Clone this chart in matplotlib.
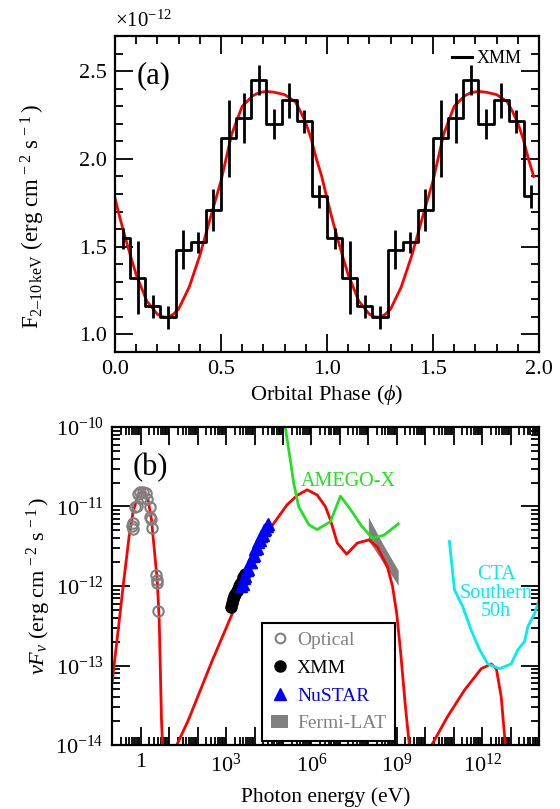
import numpy as np
import matplotlib
matplotlib.use('Agg')
import matplotlib.pyplot as plt
from matplotlib.ticker import MultipleLocator, LogLocator, FuncFormatter, NullFormatter
from matplotlib.lines import Line2D
from matplotlib.patches import Patch

plt.rcParams['font.family'] = ['Liberation Serif', 'DejaVu Serif']
plt.rcParams['mathtext.fontset'] = 'custom'
plt.rcParams['mathtext.rm'] = 'Liberation Serif'
plt.rcParams['mathtext.it'] = 'Liberation Serif:italic'
plt.rcParams['mathtext.bf'] = 'Liberation Serif:bold'

########################################
# (a) XMM light curve, 14 bins per orbit (units of 1e-12)

bin_phase = [0.036, 0.107, 0.179, 0.250, 0.321, 0.393, 0.464,
             0.536, 0.607, 0.679, 0.750, 0.821, 0.893, 0.964]
xmm_flux = [1.547, 1.324, 1.161, 1.098, 1.483, 1.525, 1.710,
            2.118, 2.231, 2.449, 2.199, 2.333, 2.215, 1.788]
xmm_err = [0.060, 0.210, 0.066, 0.066, 0.110, 0.060, 0.120,
           0.220, 0.142, 0.085, 0.085, 0.100, 0.065, 0.066]

# model curve
model_phase = [0.0, 0.025, 0.05, 0.075, 0.10, 0.15, 0.20, 0.225, 0.25, 0.275, 0.30,
               0.35, 0.40, 0.45, 0.50, 0.55, 0.60, 0.65, 0.675, 0.70, 0.725, 0.75,
               0.80, 0.85, 0.875, 0.90, 0.925, 0.95, 0.975]
model_flux = [1.775, 1.655, 1.545, 1.44, 1.34, 1.19, 1.115, 1.10, 1.098, 1.115, 1.145,
              1.27, 1.45, 1.665, 1.875, 2.14, 2.30, 2.36, 2.375, 2.382, 2.383, 2.380,
              2.366, 2.326, 2.27, 2.205, 2.115, 2.00, 1.90]

########################################
# (b) SED

opt_E = [0.51, 0.53, 0.55, 0.61, 0.74, 0.80, 0.98, 1.06, 1.21, 1.50, 1.67,
         2.08, 2.20, 2.38, 2.50, 3.57, 3.67, 3.67, 4.20]
opt_F = [5.7e-12, 6.2e-12, 5.2e-12, 9.8e-12, 1.02e-11, 1.44e-11, 1.54e-11, 1.27e-11,
         1.54e-11, 1.46e-11, 1.24e-11, 9.8e-12, 7.4e-12, 6.9e-12, 5.3e-12,
         1.38e-12, 1.18e-12, 1.08e-12, 4.9e-13]

xmm_E = [1480, 1620, 1780, 1950, 2140, 2340, 2570, 2820, 3160, 3550, 3980, 4570]
xmm_F = [5.5e-13, 6.2e-13, 6.8e-13, 7.4e-13, 7.9e-13, 8.7e-13, 9.1e-13, 1.0e-12,
         1.07e-12, 1.17e-12, 1.29e-12, 1.41e-12]

nus_E = [3300, 3800, 4270, 4790, 5370, 6030, 6760, 7590, 8510, 9550, 10700,
         12000, 13500, 15100, 17000, 19100, 21400, 24000, 26900, 30200]
nus_F = [1.0e-12, 1.05e-12, 1.26e-12, 1.32e-12, 1.58e-12, 1.62e-12, 2.0e-12, 2.0e-12,
         2.4e-12, 2.45e-12, 2.95e-12, 3.0e-12, 3.55e-12, 3.8e-12, 4.27e-12, 4.37e-12,
         5.0e-12, 5.25e-12, 5.75e-12, 6.0e-12]

fermi_E = [1.0e8, 3.2e8, 1.12e9]
fermi_hi = [7.4e-12, 3.4e-12, 1.58e-12]
fermi_lo = [3.8e-12, 2.0e-12, 1.02e-12]

# model curves (log10 E, log10 F)
opt_mod_lE = [-1.0, -0.85, -0.74, -0.625, -0.5, -0.41, -0.27, -0.1, 0.06, 0.18,
              0.26, 0.38, 0.49, 0.58, 0.65, 0.73, 0.80]
opt_mod_lF = [-13.20, -12.73, -12.39, -12.02, -11.65, -11.38, -11.07, -10.86, -10.81,
              -10.85, -10.92, -11.17, -11.59, -11.93, -12.43, -13.69, -14.3]

ic_mod_lE = [1.2, 1.67, 2.5, 3.12, 3.5, 4.0, 4.5, 4.8, 5.14, 5.5, 5.85, 6.2, 6.49,
             6.67, 6.91, 7.24, 7.61, 8.02, 8.32, 8.67, 8.85, 9.0, 9.14, 9.3, 9.47]
ic_mod_lF = [-14.05, -13.69, -12.95, -12.43, -12.10, -11.66, -11.30, -11.15, -10.98,
             -10.86, -10.79, -10.855, -11.0, -11.17, -11.46, -11.60, -11.46, -11.42,
             -11.51, -11.76, -12.0, -12.35, -12.85, -13.5, -14.1]

tev_mod_lE = [10.15, 10.79, 11.38, 11.97, 12.32, 12.5, 12.67, 12.83]
tev_mod_lF = [-14.05, -13.64, -13.31, -13.04, -12.98, -13.04, -13.39, -14.05]

amego_lE = [5.0, 5.08, 5.26, 5.38, 5.55, 5.91, 6.2, 6.67, 7.02, 7.38, 7.73, 8.14,
            8.55, 9.05]
amego_lF = [-9.8, -10.0, -10.42, -10.71, -11.0, -11.23, -11.29, -11.19, -10.87,
            -11.04, -11.23, -11.40, -11.36, -11.22]

cta_lE = [10.85, 11.03, 11.32, 11.61, 11.91, 12.2, 12.61, 13.02, 13.26, 13.49,
          13.61, 13.85, 14.05]
cta_lF = [-11.44, -12.05, -12.26, -12.55, -12.80, -12.98, -13.04, -12.98, -12.80,
          -12.70, -12.51, -12.34, -12.13]

########################################

fig = plt.figure(figsize=(5.6, 8.09), dpi=100)
ax1 = fig.add_axes([0.2054, 0.5649, 0.7571, 0.3906])
ax2 = fig.add_axes([0.2005, 0.0791, 0.7620, 0.3931])

for ax in (ax1, ax2):
    ax.tick_params(which='both', direction='in', top=True, right=True, labelsize=16,
                   width=1.3)
    ax.tick_params(which='major', length=13, pad=6)
    ax.tick_params(which='minor', length=6)
    for s in ax.spines.values():
        s.set_linewidth(1.6)

# ---- panel (a)
ph = np.array(model_phase)
mf = np.array(model_flux)
ax1.plot(np.concatenate([ph, ph + 1]), np.concatenate([mf, mf]), color='red', lw=2,
         zorder=2)

bc = np.array(bin_phase)
cen = np.concatenate([bc, bc + 1])
flx = np.concatenate([xmm_flux, xmm_flux])
err = np.concatenate([xmm_err, xmm_err])
ax1.step(cen, flx, where='mid', color='black', lw=2, zorder=3)
ax1.errorbar(cen, flx, yerr=err, fmt='none', ecolor='black', elinewidth=2, capsize=0,
             zorder=3)

ax1.set_xlim(0, 2)
ax1.set_ylim(0.9, 2.7)
ax1.xaxis.set_major_locator(MultipleLocator(0.5))
ax1.xaxis.set_minor_locator(MultipleLocator(0.1))
ax1.yaxis.set_major_locator(MultipleLocator(0.5))
ax1.yaxis.set_minor_locator(MultipleLocator(0.1))
ax1.xaxis.set_major_formatter(FuncFormatter(lambda v, p: '%.1f' % v))
ax1.yaxis.set_major_formatter(FuncFormatter(lambda v, p: '%.1f' % v))
ax1.set_xlabel(r'Orbital Phase ($\phi$)', fontsize=16, labelpad=3)
ax1.set_ylabel(r'F$_{\rm 2\endash10\,keV}$ (erg cm$^{\,-2}$ s$^{\,-1}\,$)', fontsize=16.5)
ax1.yaxis.set_label_coords(-0.16, 0.43)
ax1.text(0.0, 1.012, r'$\times10^{-12}$', transform=ax1.transAxes, fontsize=15,
         ha='left', va='bottom')
ax1.text(0.05, 0.875, '(a)', transform=ax1.transAxes, fontsize=22, ha='left',
         va='center')
ax1.legend([Line2D([], [], color='black', lw=2.2)], ['XMM'], loc='upper right',
           bbox_to_anchor=(0.96, 0.955), frameon=False, fontsize=13, handlelength=1.1,
           handletextpad=0.3, borderpad=0, borderaxespad=0)

# ---- panel (b)
ax2.set_xscale('log')
ax2.set_yscale('log')

ax2.fill_between(fermi_E, fermi_lo, fermi_hi, color='#808080', lw=0, zorder=1)

ax2.plot(10 ** np.array(opt_mod_lE), 10 ** np.array(opt_mod_lF), color='red', lw=2, zorder=2)
ax2.plot(10 ** np.array(ic_mod_lE), 10 ** np.array(ic_mod_lF), color='red', lw=2, zorder=2)
ax2.plot(10 ** np.array(tev_mod_lE), 10 ** np.array(tev_mod_lF), color='red', lw=2, zorder=2)
ax2.plot(10 ** np.array(amego_lE), 10 ** np.array(amego_lF), color='#22e022', lw=2, zorder=2)
ax2.plot(10 ** np.array(cta_lE), 10 ** np.array(cta_lF), color='#00eeee', lw=2, zorder=2)

ax2.plot(opt_E, opt_F, 'o', mfc='none', mec='gray', mew=1.5, ms=7.5, zorder=4)
ax2.plot(xmm_E, xmm_F, 'o', color='black', ms=8, zorder=4)
ax2.plot(nus_E, nus_F, '^', color='blue', ms=8.5, zorder=5)

ax2.set_xlim(0.1, 1e14)
ax2.set_ylim(1e-14, 1e-10)
ax2.xaxis.set_major_locator(LogLocator(base=10, subs=(1.0,), numticks=40))
ax2.xaxis.set_minor_locator(LogLocator(base=10, subs=np.arange(2, 10), numticks=40))
ax2.yaxis.set_major_locator(LogLocator(base=10, subs=(1.0,), numticks=40))
ax2.yaxis.set_minor_locator(LogLocator(base=10, subs=np.arange(2, 10), numticks=40))
ax2.xaxis.set_minor_formatter(NullFormatter())
ax2.yaxis.set_minor_formatter(NullFormatter())


def xfmt(v, pos):
    k = int(round(np.log10(v)))
    if k == 0:
        return '1'
    if k > 0 and k % 3 == 0:
        return r'$10^{%d}$' % k
    return ''


def yfmt(v, pos):
    k = int(round(np.log10(v)))
    return r'$10^{%d}$' % k


ax2.xaxis.set_major_formatter(FuncFormatter(xfmt))
ax2.yaxis.set_major_formatter(FuncFormatter(yfmt))
ax2.set_xlabel('Photon energy (eV)', fontsize=15.5, labelpad=8)
ax2.set_ylabel(r'$\nu F_\nu$ (erg cm$^{\,-2}$ s$^{\,-1}\,$)', fontsize=16, labelpad=2)

ax2.text(0.048, 0.871, '(b)', transform=ax2.transAxes, fontsize=22, ha='left',
         va='center')
ax2.text(10 ** 7.31, 10 ** -10.69, 'AMEGO-X', color='#22e022', fontsize=14.5,
         ha='center', va='center')
ax2.text(10 ** 12.49, 10 ** -12.09, 'CTA\nSouthern\n50h', color='#00eeee',
         fontsize=14.5, ha='center', va='center', linespacing=0.95)

handles = [
    Line2D([], [], ls='none', marker='o', mfc='none', mec='gray', mew=1.5, ms=7),
    Line2D([], [], ls='none', marker='o', color='black', ms=8),
    Line2D([], [], ls='none', marker='^', color='blue', ms=8),
    Patch(facecolor='#808080', edgecolor='none'),
]
leg = ax2.legend(handles, ['Optical', 'XMM', 'NuSTAR', 'Fermi-LAT'], loc='upper left',
                 bbox_to_anchor=(0.351, 0.384), fontsize=14, frameon=True,
                 fancybox=False, edgecolor='black', framealpha=1, handlelength=0.9,
                 handletextpad=0.45, labelspacing=0.52, borderpad=0.45,
                 borderaxespad=0, labelcolor=['gray', 'black', 'blue', 'gray'])
leg.get_frame().set_linewidth(1.5)

fig.savefig('out.png', dpi=100)
